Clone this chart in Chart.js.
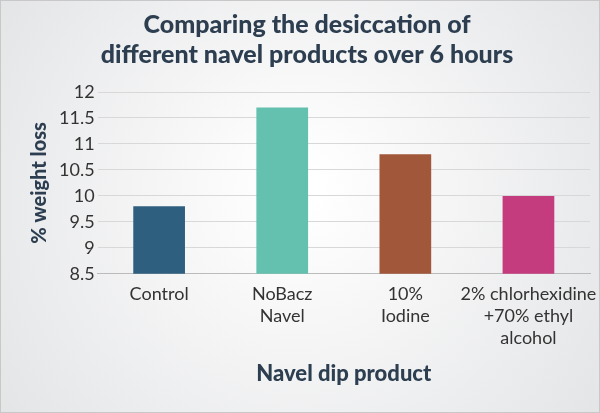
<!DOCTYPE html>
<html><head><meta charset="utf-8">
<script src="https://cdn.jsdelivr.net/npm/chart.js@4/dist/chart.umd.min.js"></script>
<style>html,body{margin:0;padding:0;}#w{width:600px;height:413px;}</style>
</head><body><div id="w"><canvas id="c"></canvas></div>
<script>
const categories = [["Control"],["NoBacz","Navel"],["10%","Iodine"],["2% chlorhexidine","+70% ethyl","alcohol"]];
const values = [9.8, 11.7, 10.8, 10.0];
const colors = ["#2f5f7f","#64c0af","#a0573a","#c43c7d"];
const yTicks = ["8.5","9","9.5","10","10.5","11","11.5","12"];
const bg = {id:'bg',beforeDraw(ch){const c=ch.ctx,w=ch.width,h=ch.height;const g=c.createRadialGradient(w/2,h*0.45,20,w/2,h/2,w*0.6);g.addColorStop(0,'#ffffff');g.addColorStop(1,'#e4e5e7');c.save();c.fillStyle=g;c.fillRect(0,0,w,h);c.strokeStyle='#c8c8c8';c.lineWidth=1;c.strokeRect(0.5,0.5,w-1,h-1);c.restore();}};
new Chart(document.getElementById('c'),{type:'bar',
data:{labels:categories,datasets:[{data:values,backgroundColor:colors,barPercentage:0.42,categoryPercentage:1}]},
options:{responsive:true,maintainAspectRatio:false,animation:false,
layout:{padding:{left:24,right:10,top:6,bottom:22}},
plugins:{legend:{display:false},tooltip:{enabled:false},
title:{display:true,text:["Comparing the desiccation of","different navel products over 6 hours"],color:'#2c3e50',font:{family:'Lato',size:25,weight:'900'},padding:{top:4,bottom:22},lineHeight:1.3}},
scales:{y:{min:8.5,max:12,ticks:{stepSize:0.5,color:'#333',font:{family:'Lato',size:18},callback:(v,i)=>yTicks[i]},grid:{color:'#d8d8d8',drawTicks:false},border:{display:false},
title:{display:true,text:'% weight loss',color:'#2c3e50',font:{family:'Lato',size:20,weight:'900'}}},
x:{grid:{display:false},border:{display:true,color:'#bbb'},ticks:{color:'#333',font:{family:'Lato',size:18},maxRotation:0,autoSkip:false,padding:2},
title:{display:true,text:'Navel dip product',color:'#2c3e50',font:{family:'Lato',size:22,weight:'900'},padding:{top:10}}}}},
plugins:[bg]});
</script></body></html>
